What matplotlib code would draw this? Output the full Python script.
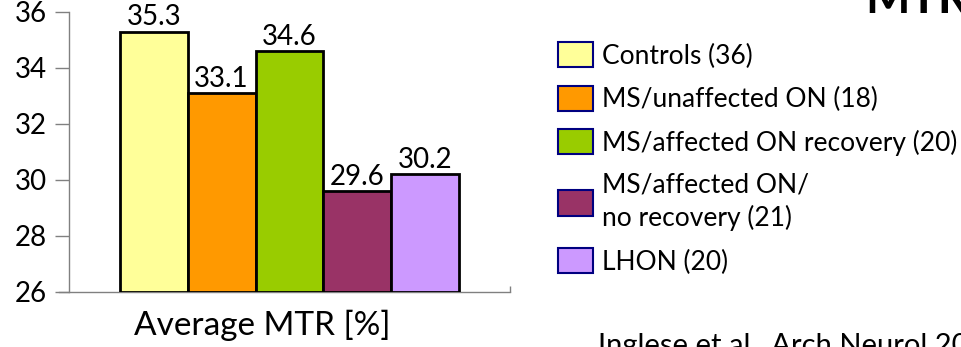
import matplotlib.pyplot as plt
from matplotlib.patches import Patch

plt.rcParams['font.family'] = ['Lato', 'DejaVu Sans']

groups = ['Controls (36)', 'MS/unaffected ON (18)', 'MS/affected ON recovery (20)',
          'MS/affected ON/\nno recovery (21)', 'LHON (20)']
mtr = [35.3, 33.1, 34.6, 29.6, 30.2]
colors = ['#FFFF99', '#FF9900', '#99CC00', '#993366', '#CC99FF']
yticks = [26, 28, 30, 32, 34, 36]

W, H = 961, 347
fig = plt.figure(figsize=(W / 100, H / 100), dpi=100)
ax = fig.add_axes([69 / W, (H - 292) / H, (510 - 69) / W, (292 - 12) / H])

# one bar per group, touching each other
xs = list(range(len(mtr)))
ax.bar(xs, [v - 26 for v in mtr], bottom=26, width=1.0, color=colors,
       edgecolor='black', linewidth=2.0, zorder=3)
for x, v in zip(xs, mtr):
    ax.text(x, v + 0.05, f'{v:.1f}', ha='center', va='bottom', fontsize=20)

ax.set_xlim(-1.25, 5.25)
ax.set_ylim(26, 36)
ax.set_yticks(yticks)
ax.set_yticklabels([str(t) for t in yticks], fontsize=20)
ax.set_xticks([5.25])
ax.set_xticklabels([''])
ax.tick_params(axis='y', length=10, width=1, color='#808080', pad=6)
ax.tick_params(axis='x', length=4, width=1, color='#808080', direction='in')
for side in ['top', 'right']:
    ax.spines[side].set_visible(False)
for side in ['left', 'bottom']:
    ax.spines[side].set_color('#808080')
    ax.spines[side].set_linewidth(1)
ax.spines['bottom'].set_bounds(-1.25 - 10 / 67.8, 5.25)
ax.spines['left'].set_zorder(1)
ax.set_xlabel('Average MTR [%]', fontsize=24)
ax.xaxis.set_label_coords(0.438, -0.065, transform=ax.transAxes)
ax.xaxis.label.set_va('top')

handles = [Patch(facecolor=c, edgecolor='#000080', linewidth=1.5) for c in colors]
leg = fig.legend(handles, groups, loc='upper left', bbox_to_anchor=(558 / W, 1 - 42 / H),
                 frameon=False, fontsize=19, handlelength=1.33, handleheight=1.1,
                 handletextpad=0.34, labelspacing=0.64, borderaxespad=0, borderpad=0)
leg.get_texts()[3].set_linespacing(1.35)

# slide title and citation, partly outside the canvas
fig.text(865 / W, 1 - 13 / H, 'MTR', fontsize=34, fontweight='bold', va='baseline')
fig.text(598 / W, 1 - 354 / H, 'Inglese et al., Arch Neurol 2005', fontsize=21, va='baseline')

fig.savefig('out.png', dpi=100)
